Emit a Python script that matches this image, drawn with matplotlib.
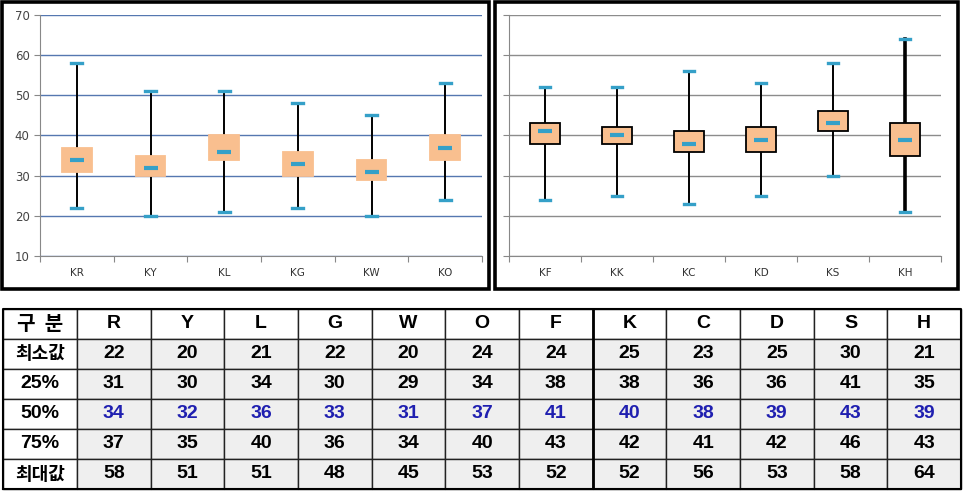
import matplotlib
matplotlib.use('Agg')
import matplotlib.pyplot as plt
from matplotlib.patches import Rectangle

cols = ['R', 'Y', 'L', 'G', 'W', 'O', 'F', 'K', 'C', 'D', 'S', 'H']
labels_left = ['KR', 'KY', 'KL', 'KG', 'KW', 'KO']
labels_right = ['KF', 'KK', 'KC', 'KD', 'KS', 'KH']
row_names = ['최소값', '25%', '50%', '75%', '최대값']
mins = [22, 20, 21, 22, 20, 24, 24, 25, 23, 25, 30, 21]
q1 = [31, 30, 34, 30, 29, 34, 38, 38, 36, 36, 41, 35]
med = [34, 32, 36, 33, 31, 37, 41, 40, 38, 39, 43, 39]
q3 = [37, 35, 40, 36, 34, 40, 43, 42, 41, 42, 46, 43]
maxs = [58, 51, 51, 48, 45, 53, 52, 52, 56, 53, 58, 64]
yticks = [10, 20, 30, 40, 50, 60, 70]

W, H = 963, 496
fig = plt.figure(figsize=(W / 100, H / 100), dpi=100)

box_col = '#F9BF8F'
cap_col = '#35A0C8'


def px(x0, y0, x1, y1):
    # pixel box (top-left origin) -> figure fraction rect
    return [x0 / W, 1 - y1 / H, (x1 - x0) / W, (y1 - y0) / H]


def panel(ax, names, sl, grid_col, edge, bw, thick_last=False):
    stats = []
    for i in sl:
        stats.append(dict(whislo=mins[i], q1=q1[i], med=med[i], q3=q3[i], whishi=maxs[i], fliers=[]))
    pos = list(range(1, len(names) + 1))
    wlw = [1.4] * len(names)
    if thick_last:
        wlw[-1] = 2.6
    bp = ax.bxp(stats, positions=pos, widths=bw, patch_artist=True, showfliers=False,
                capwidths=0.15,
                boxprops=dict(facecolor=box_col, edgecolor=edge if edge else box_col, linewidth=1.3),
                whiskerprops=dict(color='black', linewidth=1.4),
                capprops=dict(color=cap_col, linewidth=2.4),
                medianprops=dict(visible=False), zorder=3)
    for k, w in enumerate(bp['whiskers']):
        w.set_linewidth(wlw[k // 2])
        w.set_zorder(2)
    ax.plot(pos, [med[i] for i in sl], ls='none', marker='_', ms=10, mew=3, color=cap_col, zorder=4)
    ax.set_ylim(10, 70)
    ax.set_xlim(0.5, len(names) + 0.5)
    ax.set_yticks(yticks)
    ax.yaxis.grid(True, color=grid_col, lw=1)
    ax.set_axisbelow(True)
    ax.set_xticks([p + 0.5 for p in [0] + pos])
    ax.set_xticklabels([])
    ax.set_xticks(pos, minor=True)
    ax.set_xticklabels(names, minor=True, fontsize=7.5, color='#333333')
    ax.tick_params(axis='x', which='minor', length=0, pad=9)
    ax.tick_params(axis='x', which='major', length=4, color='#888888')
    ax.tick_params(axis='y', length=4, color='#888888', labelsize=8.5, labelcolor='#444444')
    for s in ['top', 'right']:
        ax.spines[s].set_visible(False)
    for s in ['left', 'bottom']:
        ax.spines[s].set_color('#888888')


ax1 = fig.add_axes(px(40, 15, 482, 256))
panel(ax1, labels_left, range(0, 6), '#5577B0', None, 0.4)

ax2 = fig.add_axes(px(509, 15, 941, 256))
panel(ax2, labels_right, range(6, 12), '#8C8C8C', 'black', 0.42, thick_last=True)
ax2.set_yticklabels([])

# panel borders
fig.add_artist(Rectangle((1.5 / W, 1 - 289 / H), 487 / W, 287 / H, transform=fig.transFigure,
                         fill=False, lw=2.6, ec='black'))
fig.add_artist(Rectangle((494.5 / W, 1 - 289 / H), 463 / W, 287 / H, transform=fig.transFigure,
                         fill=False, lw=2.6, ec='black'))

# table
axt = fig.add_axes(px(3, 309, 961, 489))
axt.axis('off')
cell_text = [['구  분'] + cols]
colors = [['white'] * 13]
for name, vals in zip(row_names, [mins, q1, med, q3, maxs]):
    cell_text.append([name] + [str(v) for v in vals])
    colors.append(['white'] + ['#EFEFEF'] * 12)
widths = [74] + [73.7] * 12
tot = sum(widths)
tbl = axt.table(cellText=cell_text, cellColours=colors, cellLoc='center',
                colWidths=[w / tot for w in widths], bbox=[0, 0, 1, 1])
tbl.auto_set_font_size(False)
for (r, c), cell in tbl.get_celld().items():
    cell.set_edgecolor('#222222')
    cell.set_linewidth(1.0)
    t = cell.get_text()
    t.set_fontsize(14)
    t.set_fontweight('bold')
    t.set_family(['Liberation Sans', 'Noto Sans CJK KR'])
    if r == 3 and c > 0:
        t.set_color('#1F1FB0')
    if c == 0 and r in (0, 1, 5):
        t.set_family(['Noto Sans CJK KR', 'Liberation Sans'])
        t.set_fontsize(14.5 if r == 0 else 13)

# heavier line between F and K
xk = sum(widths[:8]) / tot
axt.plot([xk, xk], [0, 1], color='black', lw=2, solid_capstyle='butt',
         transform=axt.transAxes, clip_on=False)
axt.plot([0, 1, 1, 0, 0], [0, 0, 1, 1, 0], color='black', lw=1.5, transform=axt.transAxes, clip_on=False)

fig.savefig('out.png', dpi=100)
